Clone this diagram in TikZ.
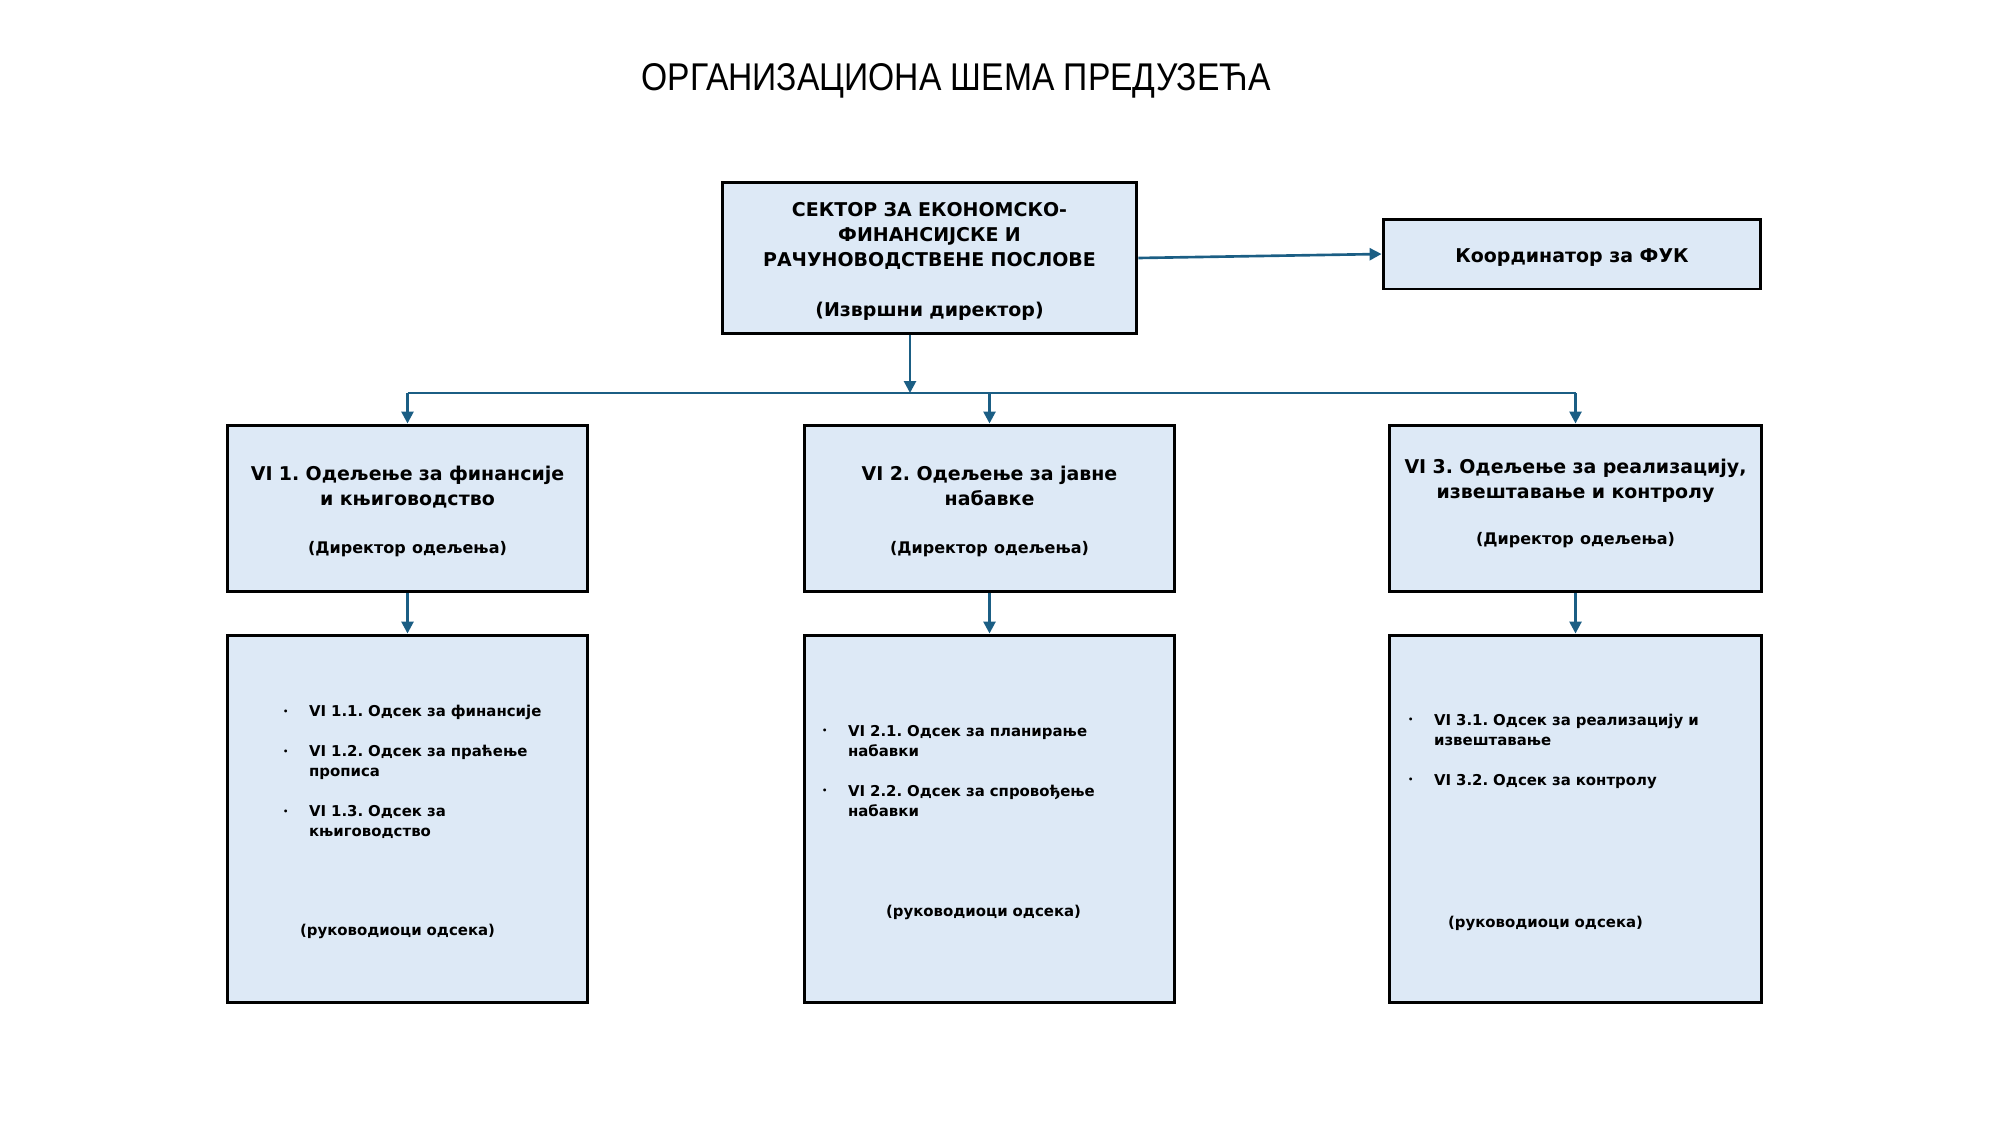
\documentclass[tikz,border=0pt]{standalone}
\usepackage{fontspec}
\setmainfont{DejaVu Sans}
\newfontfamily\naslovfont{Liberation Sans}[FakeStretch=0.87]
\usetikzlibrary{arrows.meta}
\definecolor{kutija}{HTML}{DDE9F6}
\definecolor{veza}{HTML}{1B5E84}
\frenchspacing
\newlength{\uvlaka}
\newcommand{\tacka}{\hspace*{\uvlaka}\makebox[0.52cm][l]{\raisebox{1.4pt}{\fontsize{4.7}{5}\selectfont\textbullet}}}
\newcommand{\nastavak}{\hspace*{\uvlaka}\hspace*{0.52cm}}
\newcommand{\direktor}[1]{{\fontsize{9.1}{14.2}\selectfont #1}}
\newcommand{\gore}[1]{\rule{0pt}{#1}}

\begin{document}
\begin{tikzpicture}[x=0.02cm, y=-0.02cm,
    box/.style={draw=black, line width=1.7pt, fill=kutija, inner sep=0pt, align=center},
    veliki/.style={font=\fontsize{10.8}{14.2}\selectfont\bfseries},
    mali/.style={font=\fontsize{8.5}{11.4}\selectfont\bfseries},
    arr/.style={draw=veza, line width=1.5pt, -{Triangle[length=6.8pt,width=6.8pt]}},
    conn/.style={draw=veza, line width=1.5pt}]
  \useasboundingbox (0,0) rectangle (2000,1125);
  \node[font=\naslovfont\fontsize{22}{26}\selectfont] (naslov) at (956,81) {ОРГАНИЗАЦИОНА ШЕМА ПРЕДУЗЕЋА};

  \node[box, veliki, minimum width=8.3cm, minimum height=3.04cm, text width=7.6cm] (sektor) at (929.5,258)
    {\gore{0.42cm}СЕКТОР ЗА ЕКОНОМСКО-\\ФИНАНСИЈСКЕ И\\РАЧУНОВОДСТВЕНЕ ПОСЛОВЕ\\[0.5cm](Извршни директор)};
  \node[box, veliki, minimum width=7.56cm, minimum height=1.4cm] (fuk) at (1572,254) {\gore{0.42cm}Координатор за ФУК};

  \node[box, veliki, minimum width=7.22cm, minimum height=3.34cm, text width=7.22cm] (vi1) at (407.5,508.5)
    {\gore{0.42cm}VI 1. Одељење за финансије\\и књиговодство\\[0.46cm]\direktor{(Директор одељења)}};
  \node[box, veliki, minimum width=7.42cm, minimum height=3.34cm, text width=7.42cm] (vi2) at (989.5,508.5)
    {\gore{0.42cm}VI 2. Одељење за јавне\\набавке\\[0.46cm]\direktor{(Директор одељења)}};
  \node[box, veliki, minimum width=7.46cm, minimum height=3.34cm, text width=7.46cm] (vi3) at (1575.5,508.5)
    {\gore{0.42cm}VI 3. Одељење за реализацију,\\извештавање и контролу\\[0.44cm]\direktor{(Директор одељења)}\rule[-0.4cm]{0pt}{0.4cm}};

  \node[box, mali, align=left, minimum height=7.36cm, text width=7.22cm] (od1) at (407.5,819)
    {\setlength{\uvlaka}{1.12cm}\gore{0.35cm}\tacka VI 1.1. Одсек за финансије\\[0.4cm]
     \tacka VI 1.2. Одсек за праћење\\\nastavak прописа\\[0.4cm]
     \tacka VI 1.3. Одсек за\\\nastavak књиговодство\\[1.58cm]
     \hspace*{1.46cm}(руководиоци одсека)};
  \node[box, mali, align=left, minimum height=7.36cm, text width=7.42cm] (od2) at (989.5,819)
    {\setlength{\uvlaka}{0.36cm}\gore{0.35cm}\tacka VI 2.1. Одсек за планирање\\\nastavak набавки\\[0.4cm]
     \tacka VI 2.2. Одсек за спровођење\\\nastavak набавки\\[1.6cm]
     \hspace*{1.64cm}(руководиоци одсека)};
  \node[box, mali, align=left, minimum height=7.36cm, text width=7.46cm] (od3) at (1575.5,819)
    {\setlength{\uvlaka}{0.38cm}\gore{0.35cm}\tacka VI 3.1. Одсек за реализацију и\\\nastavak извештавање\\[0.4cm]
     \tacka VI 3.2. Одсек за контролу\\[2.44cm]
     \hspace*{1.18cm}(руководиоци одсека)};

  \coordinate (razvod) at (910,393);
  \draw[arr] (sektor.east) -- (fuk.west);
  \draw[arr] (sektor.south -| razvod) -- (razvod);
  \draw[conn] (vi1.north |- razvod) -- (vi3.north |- razvod);
  \foreach \i in {1,2,3} {
    \draw[arr] (vi\i.north |- razvod) -- (vi\i.north);
    \draw[arr] (vi\i.south) -- (od\i.north);
  }
\end{tikzpicture}
\end{document}
